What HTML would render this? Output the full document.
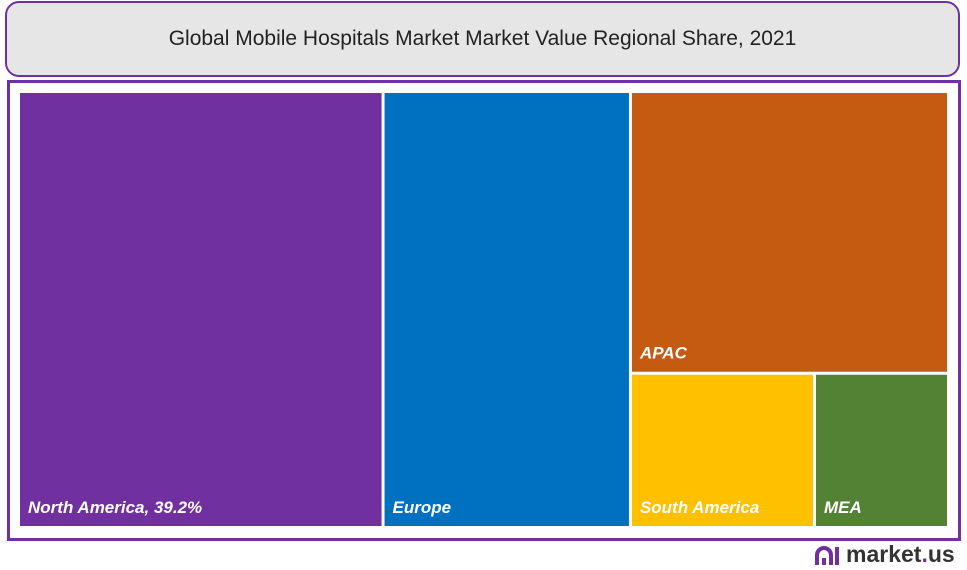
<!DOCTYPE html>
<html><head><meta charset="utf-8"><style>
body{margin:0;width:967px;height:570px;background:#fff;font-family:"Liberation Sans",sans-serif;position:relative;overflow:hidden}
#title{position:absolute;left:5px;top:1px;width:951px;height:72px;border:2px solid #7030a0;border-radius:14px;background:#e6e6e6;display:flex;align-items:center;justify-content:center;font-size:21px;color:#222}
#frame{position:absolute;left:7px;top:80px;width:948px;height:455px;border:3px solid #7030a0;background:#fff}
#logo{position:absolute;left:815px;top:541px;font-size:23px;font-weight:bold;color:#333;display:flex;align-items:center;gap:5px}
</style></head><body>
<div id="title">Global Mobile Hospitals Market Market Value Regional Share, 2021</div>
<div id="frame"></div>
<svg id="tm" width="967" height="570" style="position:absolute;left:0;top:0"></svg>
<div id="logo"><svg width="26" height="24" viewBox="0 0 26 24"><path d="M2 22 V12 A7 7 0 0 1 16 12 V22" fill="none" stroke="#7030a0" stroke-width="4"/><rect x="7" y="15" width="4" height="7" fill="#7030a0"/><rect x="20" y="4" width="4" height="18" fill="#7030a0"/></svg><span>market<span style="color:#7030a0">.</span>us</span></div>
<script>
const categories=["North America","Europe","APAC","South America","MEA"];
const values=[39.2,26.6,22.1,7.0,5.1];
const labels=["North America, 39.2%","Europe","APAC","South America","MEA"];
const colors=["#7030a0","#0070c0","#c55a11","#ffc000","#548235"];
const X0=20,Y0=93,W=930,H=436,G=3;
const svg=document.getElementById('tm');
const NS="http://www.w3.org/2000/svg";
const total=values.reduce((a,b)=>a+b,0);
function draw(i,x,y,w,h){
  const r=document.createElementNS(NS,'rect');
  r.setAttribute('x',x);r.setAttribute('y',y);
  r.setAttribute('width',Math.max(0,w-G));r.setAttribute('height',Math.max(0,h-G));
  r.setAttribute('fill',colors[i]);
  
  
  svg.appendChild(r);
  const t=document.createElementNS(NS,'text');
  t.setAttribute('x',x+8);t.setAttribute('y',y+h-G-13);
  t.setAttribute('fill','#fff');t.setAttribute('font-size','17');
  t.setAttribute('font-weight','bold');t.setAttribute('font-style','italic');
  t.setAttribute('font-family','Liberation Sans, sans-serif');
  t.textContent=labels[i];
  
  
  svg.appendChild(t);
}
let x=X0;
const wNA=W*values[0]/total, wEU=W*values[1]/total;
draw(0,x,Y0,wNA,H); x+=wNA;
draw(1,x,Y0,wEU,H); x+=wEU;
const rest=values[2]+values[3]+values[4], wR=W*rest/total;
const hA=H*values[2]/rest;
draw(2,x,Y0,wR,hA);
const low=values[3]+values[4];
const wSA=wR*values[3]/low;
draw(3,x,Y0+hA,wSA,H-hA);
draw(4,x+wSA,Y0+hA,wR-wSA,H-hA);
</script>
</body></html>
